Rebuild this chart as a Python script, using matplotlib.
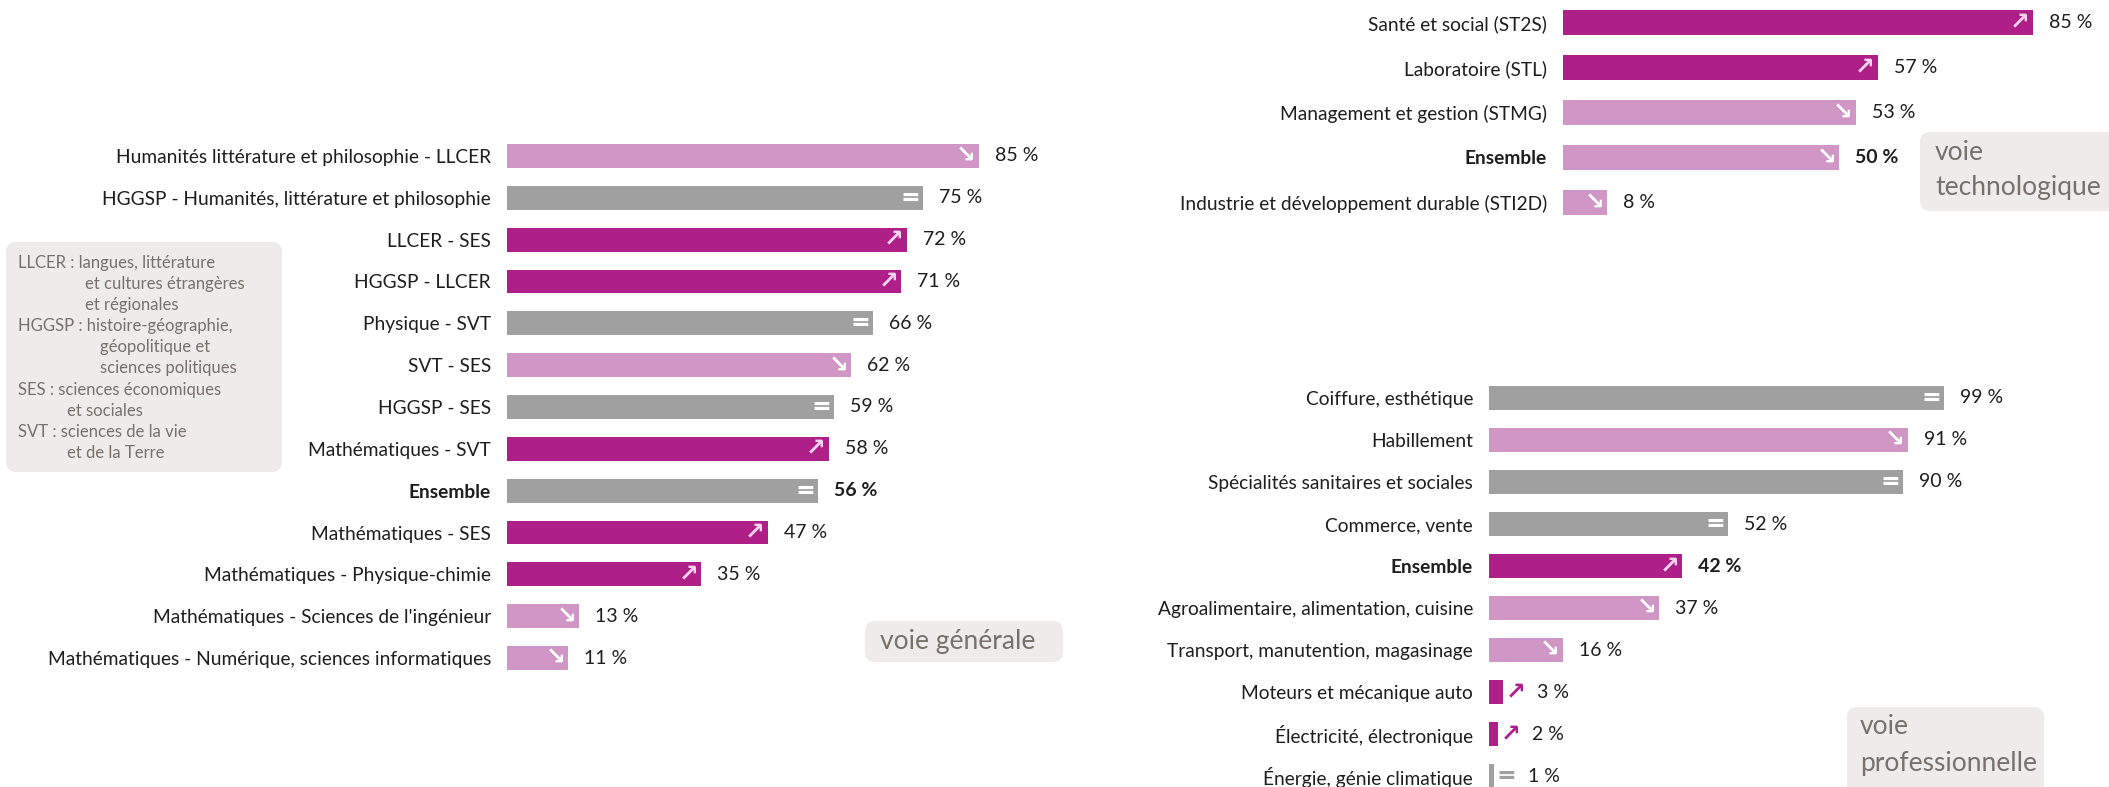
import matplotlib
matplotlib.use("Agg")
from matplotlib import pyplot as plt
from matplotlib.patches import FancyBboxPatch

plt.rcParams['font.family'] = ['Lato', 'DejaVu Sans']

# voie générale
gen_labels = ["Humanités littérature et philosophie - LLCER",
              "HGGSP - Humanités, littérature et philosophie",
              "LLCER - SES", "HGGSP - LLCER", "Physique - SVT", "SVT - SES",
              "HGGSP - SES", "Mathématiques - SVT", "Ensemble",
              "Mathématiques - SES", "Mathématiques - Physique-chimie",
              "Mathématiques - Sciences de l'ingénieur",
              "Mathématiques - Numérique, sciences informatiques"]
gen_values = [85, 75, 72, 71, 66, 62, 59, 58, 56, 47, 35, 13, 11]
gen_trend = ["down", "eq", "up", "up", "eq", "down", "eq", "up", "eq",
             "up", "up", "down", "down"]

# voie technologique
tech_labels = ["Santé et social (ST2S)", "Laboratoire (STL)",
               "Management et gestion (STMG)", "Ensemble",
               "Industrie et développement durable (STI2D)"]
tech_values = [85, 57, 53, 50, 8]
tech_trend = ["up", "up", "down", "down", "down"]

# voie professionnelle
pro_labels = ["Coiffure, esthétique", "Habillement",
              "Spécialités sanitaires et sociales", "Commerce, vente",
              "Ensemble", "Agroalimentaire, alimentation, cuisine",
              "Transport, manutention, magasinage",
              "Moteurs et mécanique auto", "Électricité, électronique",
              "Énergie, génie climatique"]
pro_values = [99, 91, 90, 52, 42, 37, 16, 3, 2, 1]
pro_trend = ["eq", "down", "eq", "eq", "up", "down", "down", "up", "up", "eq"]

colors = {"up": "#ae1f88", "down": "#cf96c6", "eq": "#a0a0a0"}
icon_col = {"up": "#f6d3ee", "down": "#ffffff", "eq": "#ffffff"}
icons = {"up": "↗", "down": "↘", "eq": "="}

W, H = 2109, 787
fig = plt.figure(figsize=(W / 100, H / 100), dpi=100)


def panel(rect, labels, values, trend, xmax, height):
    ax = fig.add_axes(rect)
    ax.set_facecolor('none')
    y = list(range(len(labels)))
    ax.barh(y, values, height=height, color=[colors[t] for t in trend])
    ax.set_xlim(0, xmax)
    ax.set_ylim(len(labels) - 0.5, -0.5)
    ax.set_yticks(y)
    ax.set_yticklabels(labels, fontsize=13.8, color="#1e1e1e")
    ax.tick_params(axis='y', length=0, pad=11.5)
    ax.set_xticks([])
    for s in ax.spines.values():
        s.set_visible(False)
    px = rect[2] * W / xmax
    for i, (v, t, lab) in enumerate(zip(values, trend, labels)):
        bold = 'bold' if lab == "Ensemble" else 'normal'
        if v * px > 25:
            ax.annotate(icons[t], (v, i), xytext=(-3, 0), textcoords='offset pixels',
                        ha='right', va='center', fontsize=17, fontweight='bold',
                        color=icon_col[t], family='DejaVu Sans')
            off = 16
        else:
            ax.annotate(icons[t], (v, i), xytext=(3, 0), textcoords='offset pixels',
                        ha='left', va='center', fontsize=17, fontweight='bold',
                        color=colors[t], family='DejaVu Sans')
            off = 34
        if lab == "Ensemble":
            ax.get_yticklabels()[i].set_fontweight('bold')
        ax.annotate(f"{v} %", (v, i), xytext=(off, 0), textcoords='offset pixels',
                    ha='left', va='center', fontsize=14, fontweight=bold,
                    color="#1e1e1e")
    return ax


# left panel: bars start at x=507 px, 5.55 px per %, rows 156..658 px
panel([507 / W, 1 - 679 / H, 555 / W, 544 / H],
      gen_labels, gen_values, gen_trend, 100, 0.57)
# top right panel
panel([1563 / W, 1 - 225 / H, 525 / W, 225 / H],
      tech_labels, tech_values, tech_trend, 95, 0.56)
# bottom right panel
panel([1489 / W, 1 - 797 / H, 483 / W, 420 / H],
      pro_labels, pro_values, pro_trend, 105, 0.57)

# overlay in pixel units for the grey boxes
bg = fig.add_axes([0, 0, 1, 1], zorder=5)
bg.set_xlim(0, W)
bg.set_ylim(H, 0)
bg.axis('off')
box_col = "#eeecea"
txt_col = "#77706b"


def box(x0, y0, x1, y1):
    bg.add_patch(FancyBboxPatch((x0, y0), x1 - x0, y1 - y0,
                                boxstyle="round,pad=0,rounding_size=10",
                                fc=box_col, ec='none'))


box(6, 242, 282, 472)
legend_lines = [(18, "LLCER : langues, littérature"),
                (85, "et cultures étrangères"),
                (85, "et régionales"),
                (18, "HGGSP : histoire-géographie,"),
                (100, "géopolitique et"),
                (100, "sciences politiques"),
                (18, "SES : sciences économiques"),
                (67, "et sociales"),
                (18, "SVT : sciences de la vie"),
                (67, "et de la Terre")]
for k, (x, s) in enumerate(legend_lines):
    bg.text(x, 263 + 21.1 * k, s, fontsize=12, color=txt_col, va='center', ha='left')

box(865, 621, 1063, 662)
bg.text(880, 641, "voie générale", fontsize=19, color=txt_col, va='center', ha='left')

box(1920, 132, 2120, 211)
bg.text(1935, 152, "voie", fontsize=19, color=txt_col, va='center', ha='left')
bg.text(1935, 188, "technologique", fontsize=19, color=txt_col, va='center', ha='left')

box(1847, 707, 2044, 800)
bg.text(1860, 727, "voie", fontsize=19, color=txt_col, va='center', ha='left')
bg.text(1860, 764, "professionnelle", fontsize=19, color=txt_col, va='center', ha='left')

plt.savefig("out.png", dpi=100)
